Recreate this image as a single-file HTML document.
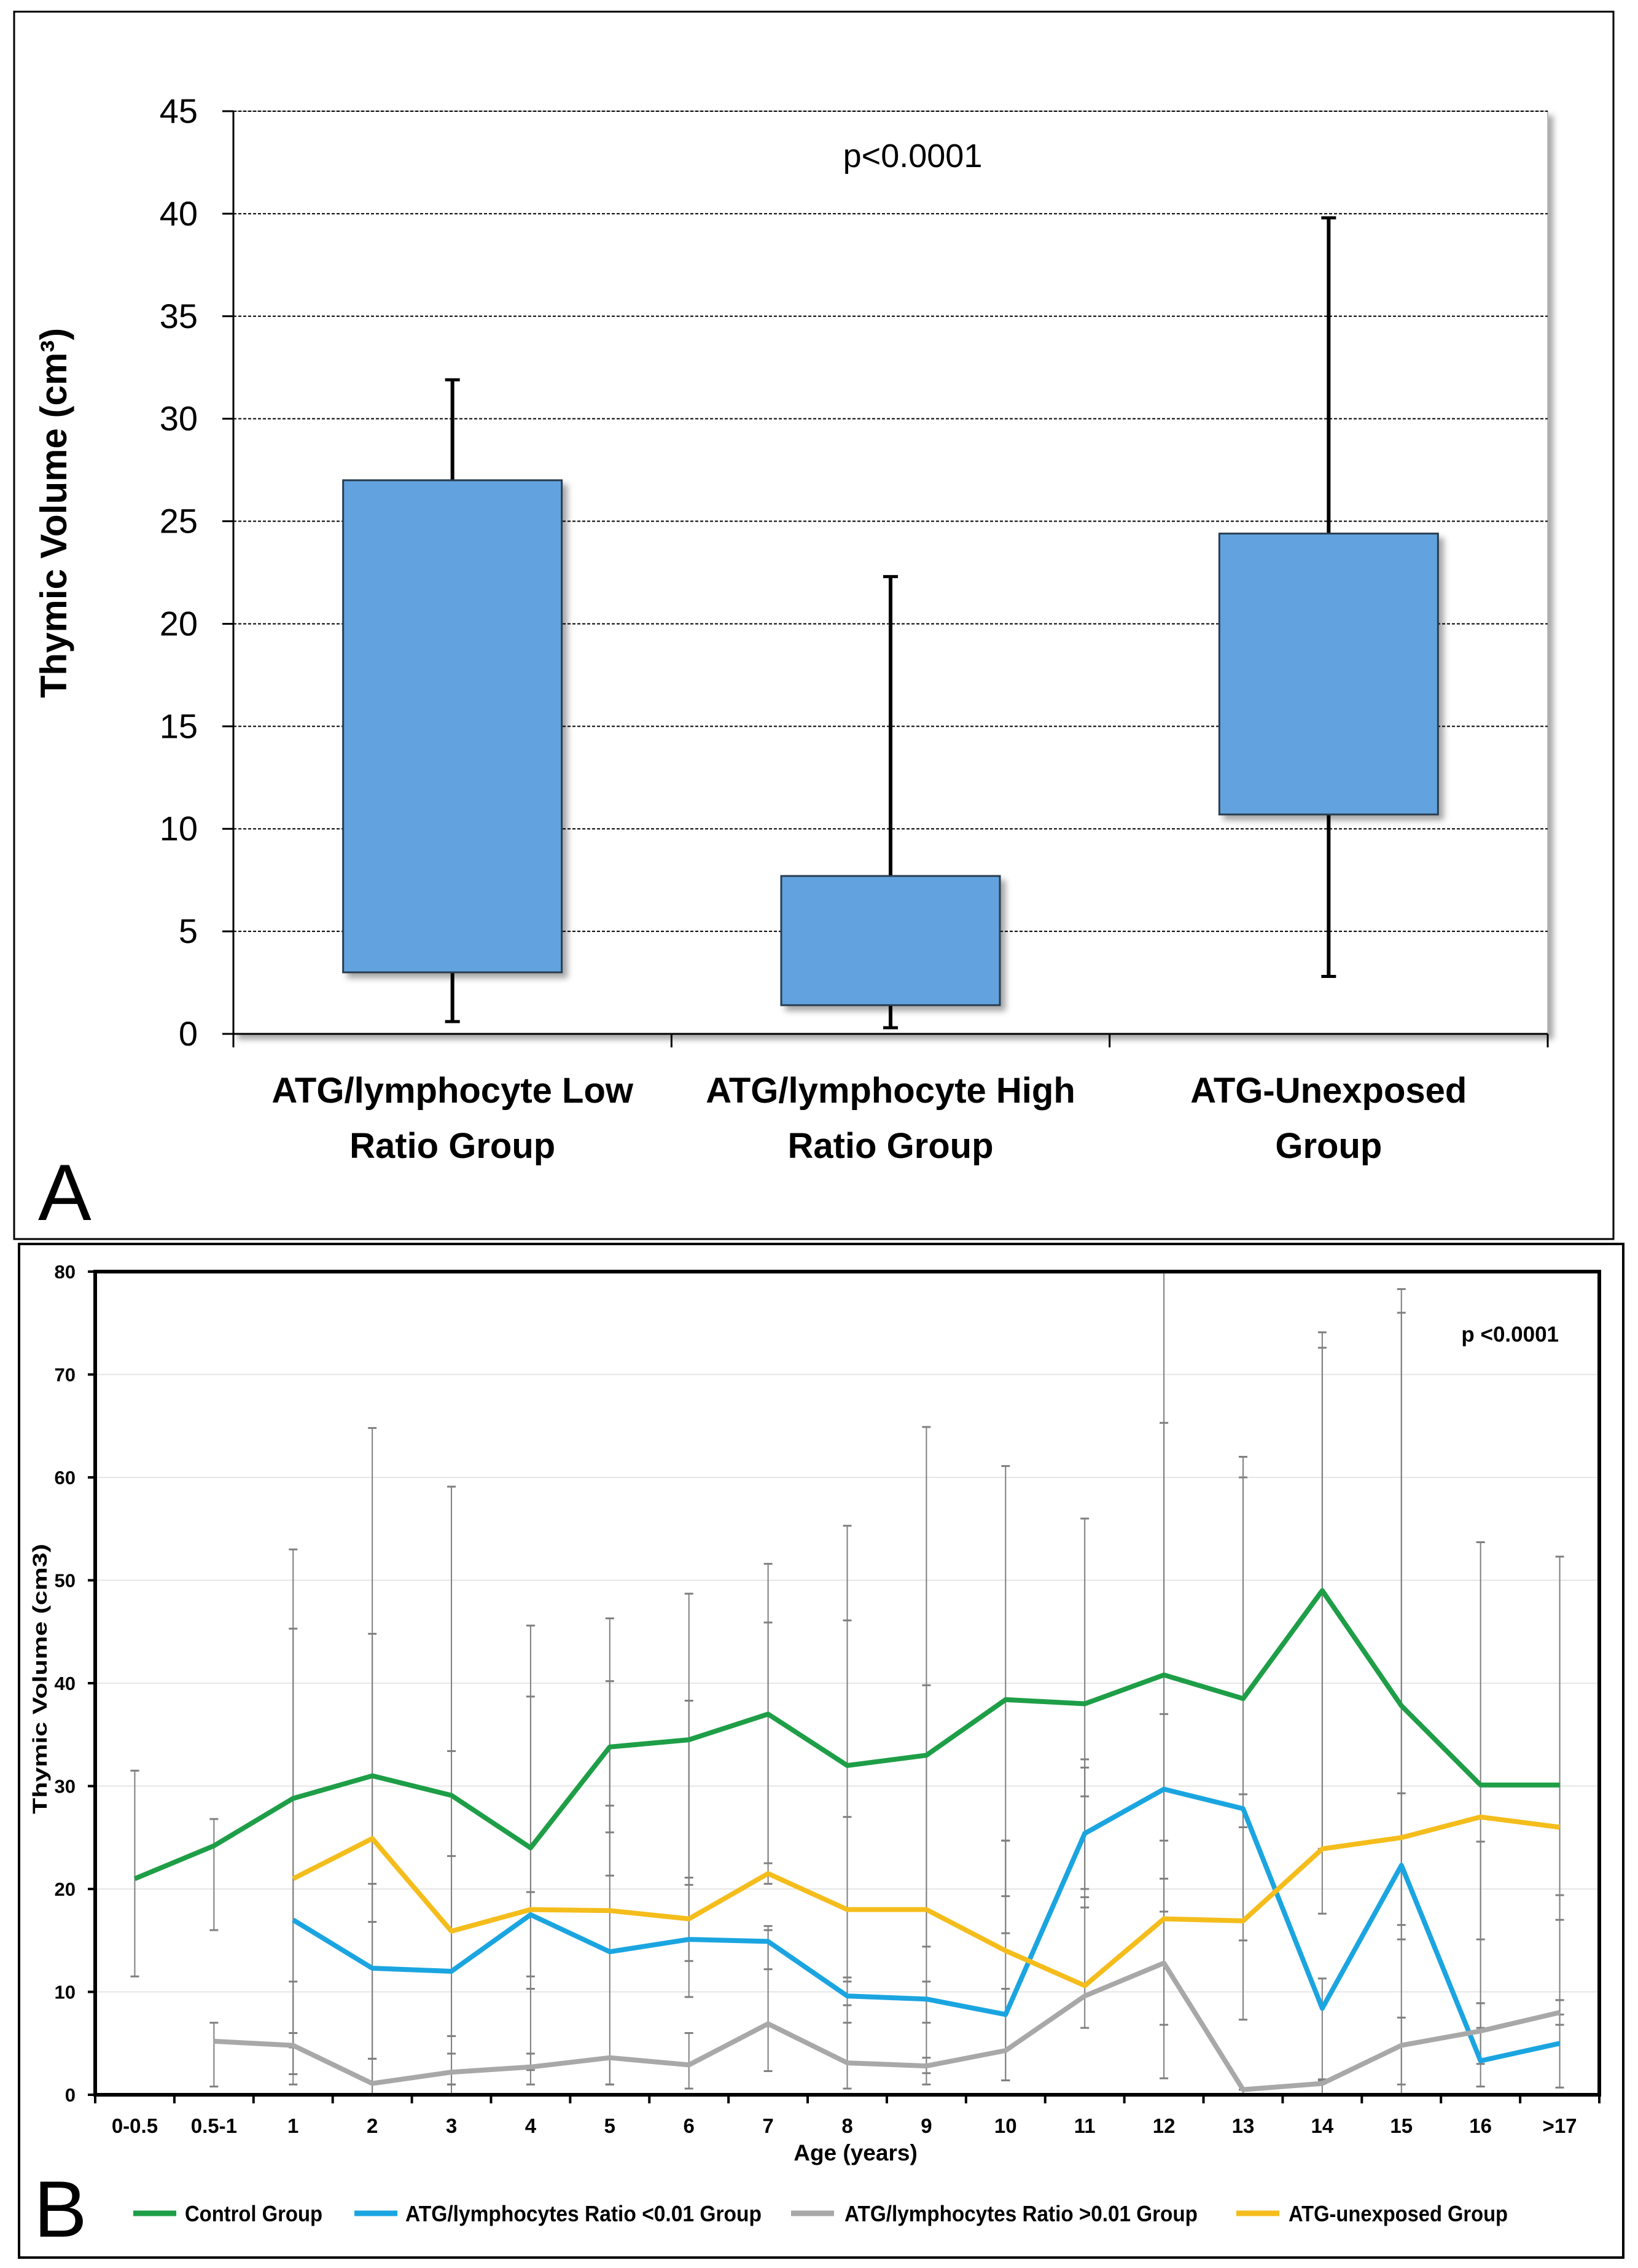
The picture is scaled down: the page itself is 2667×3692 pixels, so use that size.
<!DOCTYPE html>
<html><head><meta charset="utf-8">
<style>
html,body{margin:0;padding:0;background:#fff;}
svg{display:block;font-family:"Liberation Sans",sans-serif;}
</style></head>
<body>
<svg id="fig" width="2667" height="3692" viewBox="0 0 2667 3692" xmlns="http://www.w3.org/2000/svg">
<defs>
<filter id="sh" x="-10%" y="-10%" width="130%" height="130%"><feDropShadow dx="8" dy="8" stdDeviation="5" flood-color="#000" flood-opacity="0.35"/></filter>
</defs>
<rect x="23" y="19" width="2604" height="1998" fill="none" stroke="#000" stroke-width="3"/>
<rect x="31" y="2025" width="2612" height="1650" fill="none" stroke="#000" stroke-width="4"/>
<g id="pa"></g>
<g id="pb"></g>
</svg>
<script>
// ---------- Panel A data ----------
const catsA = ["ATG/lymphocyte Low|Ratio Group","ATG/lymphocyte High|Ratio Group","ATG-Unexposed|Group"];
const boxLow = [3, 1.4, 10.7];
const boxHigh = [27, 7.7, 24.4];
const whiskLow = [0.6, 0.3, 2.8];
const whiskHigh = [31.9, 22.3, 39.8];
const ticksA = [0,5,10,15,20,25,30,35,40,45];

// ---------- Panel B data ----------
const catsB = ["0-0.5","0.5-1","1","2","3","4","5","6","7","8","9","10","11","12","13","14","15","16",">17"];
const ctrl = [21,24.2,28.8,31,29.1,24,33.8,34.5,37,32,33,38.4,38,40.8,38.5,49,37.8,30.1,30.1];
const blue = [null,null,17,12.3,12,17.5,13.9,15.1,14.9,9.6,9.3,7.8,25.4,29.7,27.8,8.4,22.3,3.3,5];
const gray = [null,5.2,4.8,1.1,2.2,2.7,3.6,2.9,6.9,3.1,2.8,4.3,9.6,12.8,0.5,1.1,4.8,6.2,8];
const orange = [null,null,21,24.9,15.9,18,17.9,17.1,21.5,18,18,14,10.6,17.1,16.9,23.9,25,27,26];
const ctrlHi = [31.5,26.8,53,64.8,59.1,45.6,46.3,48.7,51.6,55.3,64.9,61.1,56,80,62,74.1,78.3,53.7,52.3];
const ctrlLo = [11.5,16,4.6,0,0,2.4,21.3,20.4,22.5,8.7,1,15.7,20,1.6,15,23.9,0,6.5,7.8];
const blueHi = [null,null,45.3,20.5,23.2,19.7,28.1,21.1,16.4,11.4,11,24.7,32.6,37,29.2,11.3,29.3,8.9,9.2];
const blueLo = [null,null,2,3.5,1,11.5,1,9.5,12.2,7,7,1.4,18.2,21,26,1.4,15.1,0.8,0.7];
const grayHi = [null,7,6,3.5,4,4,3.6,6,16,11,3.6,10.3,19.2,24.7,0.5,1.5,7.5,8.9,9.2];
const grayLo = [null,0.8,2,0,1,1,1,0.6,2.3,0.6,2.1,1.4,6.5,6.8,0,0,1,3,6.8];
const orgHi = [null,null,11,44.8,33.4,38.7,40.2,38.3,45.9,46.1,39.8,24.7,31.8,65.3,60,72.6,76,24.6,19.4];
const orgLo = [null,null,1,16.8,5.7,10.3,25.5,13,20.5,27,14.4,19.3,29,17.8,7.3,17.6,16.5,15.1,17];
const ticksB = [0,10,20,30,40,50,60,70,80];

const NS="http://www.w3.org/2000/svg";
function mk(parent,tag,attrs,text){const e=document.createElementNS(NS,tag);for(const k in attrs)e.setAttribute(k,attrs[k]);if(text!==undefined)e.textContent=text;parent.appendChild(e);return e;}

// ---------- Panel A ----------
(function(){
const g=document.getElementById('pa');
const L=380,R=2520,T=181,B=1683,maxV=45;
const y=v=>B-(v/maxV)*(B-T);
const cw=(R-L)/catsA.length;
const x=i=>L+cw*(i+0.5);
const fr=mk(g,'rect',{x:L,y:T,width:R-L,height:B-T,fill:'#fff',stroke:'#bbb','stroke-width':2,filter:'url(#sh)'});


ticksA.forEach(t=>{
 if(t>0){const gl=mk(g,'line',{x1:L,x2:R,y1:y(t),y2:y(t),stroke:'#000','stroke-width':2,'stroke-dasharray':'5,3'});
 
 }
 const tk=mk(g,'line',{x1:L-18,x2:L,y1:y(t),y2:y(t),stroke:'#000','stroke-width':3});
 
 
 const lb=mk(g,'text',{x:322,y:y(t)+19,'text-anchor':'end','font-size':56,fill:'#000'},String(t));
 
 
});
const ax=mk(g,'line',{x1:L,x2:L,y1:T,y2:B,stroke:'#000','stroke-width':3});


const bx=mk(g,'line',{x1:L,x2:R,y1:B,y2:B,stroke:'#000','stroke-width':3});


for(let i=0;i<=catsA.length;i++){const t=mk(g,'line',{x1:L+cw*i,x2:L+cw*i,y1:B,y2:B+22,stroke:'#000','stroke-width':3});
 
 }
const bw=356;
catsA.forEach((c,i)=>{
 const cx=x(i);
 const w1=mk(g,'line',{x1:cx,x2:cx,y1:y(whiskHigh[i]),y2:y(boxHigh[i]),stroke:'#000','stroke-width':6});
 
 
 const w2=mk(g,'line',{x1:cx,x2:cx,y1:y(boxLow[i]),y2:y(whiskLow[i]),stroke:'#000','stroke-width':6});
 
 
 [whiskHigh[i],whiskLow[i]].forEach(v=>{const cp=mk(g,'line',{x1:cx-12,x2:cx+12,y1:y(v),y2:y(v),stroke:'#000','stroke-width':5});
  
  });
 const b=mk(g,'rect',{x:cx-bw/2,y:y(boxHigh[i]),width:bw,height:y(boxLow[i])-y(boxHigh[i]),fill:'#62A3DF',stroke:'#2c3e50','stroke-width':3,filter:'url(#sh)'});
 
 
 c.split('|').forEach((ln,k)=>{const t=mk(g,'text',{x:cx,y:1795+k*90,'text-anchor':'middle','font-size':58,'font-weight':'bold',fill:'#000'},ln);
  
  });
});
const p=mk(g,'text',{x:1486,y:272,'text-anchor':'middle','font-size':54,fill:'#000'},'p<0.0001');


const yt=mk(g,'text',{x:0,y:0,transform:'translate(108,835) rotate(-90)','text-anchor':'middle','font-size':60,'font-weight':'bold',fill:'#000'},'Thymic Volume (cm³)');


const A=mk(g,'text',{x:62,y:1986,'font-size':130,fill:'#000'},'A');


})();

// ---------- Panel B ----------
(function(){
const g=document.getElementById('pb');
const L=155,R=2604,T=2070,B=3410,maxV=80;
const y=v=>B-(v/maxV)*(B-T);
const cw=(R-L)/catsB.length;
const x=i=>L+cw*(i+0.5);
ticksB.forEach(t=>{
 if(t>0&&t<80){const gl=mk(g,'line',{x1:L,x2:R,y1:y(t),y2:y(t),stroke:'#e6e6e6','stroke-width':2});
 
 }
 const tk=mk(g,'line',{x1:L-12,x2:L,y1:y(t),y2:y(t),stroke:'#000','stroke-width':4});
 
 
 const lb=mk(g,'text',{x:123,y:y(t)+11,'text-anchor':'end','font-size':31,'font-weight':'bold',fill:'#000'},String(t));
 
 
});
for(let i=0;i<=catsB.length;i++){const t=mk(g,'line',{x1:L+cw*i,x2:L+cw*i,y1:B,y2:B+14,stroke:'#000','stroke-width':4});
 
 }
catsB.forEach((c,i)=>{const t=mk(g,'text',{x:x(i),y:3472,'text-anchor':'middle','font-size':33,'font-weight':'bold',fill:'#000'},c);
 
 });
const series=[
 {name:'control',v:ctrl,hi:ctrlHi,lo:ctrlLo,c:'#1E9E47'},
 {name:'atg-ratio-low',v:blue,hi:blueHi,lo:blueLo,c:'#1BA5E0'},
 {name:'atg-ratio-high',v:gray,hi:grayHi,lo:grayLo,c:'#A8A8A8'},
 {name:'atg-unexposed',v:orange,hi:orgHi,lo:orgLo,c:'#F4BD1C'}];
series.forEach(s=>{
 s.v.forEach((v,i)=>{
  if(v===null||s.hi[i]===null)return;
  const cx=x(i);
  const e=mk(g,'line',{x1:cx,x2:cx,y1:y(s.hi[i]),y2:y(s.lo[i]),stroke:'#7f7f7f','stroke-width':2});
  
  
  [s.hi[i],s.lo[i]].forEach(w=>{const cp=mk(g,'line',{x1:cx-7,x2:cx+7,y1:y(w),y2:y(w),stroke:'#7f7f7f','stroke-width':3});
   
   });
 });
});
series.forEach(s=>{
 let d='';let started=false;
 s.v.forEach((v,i)=>{if(v===null)return;d+=(started?'L':'M')+x(i).toFixed(1)+','+y(v).toFixed(1);started=true;});
 const pth=mk(g,'path',{d:d,fill:'none',stroke:s.c,'stroke-width':8,'stroke-linejoin':'round'});
 
 
});
const fr=mk(g,'rect',{x:L,y:T,width:R-L,height:B-T,fill:'none',stroke:'#000','stroke-width':6});


const p=mk(g,'text',{x:2538,y:2184,'text-anchor':'end','font-size':35,'font-weight':'bold',fill:'#000'},'p <0.0001');


const xt=mk(g,'text',{x:1393,y:3517,'text-anchor':'middle','font-size':37,'font-weight':'bold',fill:'#000'},'Age (years)');


const yt=mk(g,'text',{x:0,y:0,transform:'translate(76,2733) rotate(-90)','text-anchor':'middle','font-size':32,'font-weight':'bold',textLength:440,lengthAdjust:'spacingAndGlyphs',fill:'#000'},'Thymic Volume (cm3)');


const Bl=mk(g,'text',{x:55,y:3641,'font-size':130,fill:'#000'},'B');


const leg=[[217,301,'#1E9E47','Control Group',224],[577,660,'#1BA5E0','ATG/lymphocytes Ratio <0.01 Group',580],[1288,1375,'#A8A8A8','ATG/lymphocytes Ratio >0.01 Group',575],[2013,2098,'#F4BD1C','ATG-unexposed Group',357]];
leg.forEach(l=>{
 const ln=mk(g,'line',{x1:l[0],x2:l[0]+70,y1:3603,y2:3603,stroke:l[2],'stroke-width':9});
 
 
 const t=mk(g,'text',{x:l[1],y:3616,'font-size':36,'font-weight':'bold',textLength:l[4],lengthAdjust:'spacingAndGlyphs',fill:'#000'},l[3]);
 
 
});
})();
</script>
</body></html>
